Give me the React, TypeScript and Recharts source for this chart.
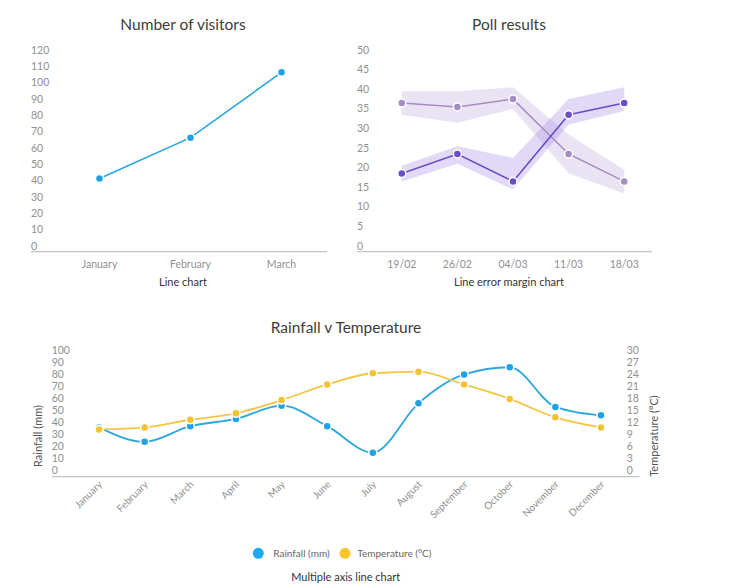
import React from "react";
import { LineChart, ComposedChart, Line, Area, XAxis, YAxis } from "recharts";

const FONT = "Lato, 'Open Sans', sans-serif";

// Number of visitors
const visitorMonths = ["January", "February", "March"];
const visitorCounts = [45, 70, 110];
const visitorTicks = [0, 10, 20, 30, 40, 50, 60, 70, 80, 90, 100, 110, 120];

// Poll results
const pollDates = ["19/02", "26/02", "04/03", "11/03", "18/03"];
const pollA = [38, 37, 39, 25, 18];
const pollALow = [35, 33, 36.5, 20, 15];
const pollAHigh = [41, 41, 42, 30, 21];
const pollB = [20, 25, 18, 35, 38];
const pollBLow = [18, 22.5, 16, 32.5, 36];
const pollBHigh = [22, 27, 24, 39, 42];
const pollTicks = [0, 5, 10, 15, 20, 25, 30, 35, 40, 45, 50];

// Rainfall v Temperature
const months = [
  "January", "February", "March", "April", "May", "June",
  "July", "August", "September", "October", "November", "December",
];
const rainfall = [41, 29, 42, 48, 59, 42, 20, 61, 85, 91, 58, 51];
const temperature = [11.8, 12.3, 14.2, 15.8, 19.1, 23, 25.8, 26.2, 23, 19.4, 14.8, 12.3];
const rainTicks = [0, 10, 20, 30, 40, 50, 60, 70, 80, 90, 100];
const tempTicks = [0, 3, 6, 9, 12, 15, 18, 21, 24, 27, 30];

const BLUE = "#2aa6e0";
const YELLOW = "#f4c443";
const PURPLE = "#6a4cc6";
const LILAC = "#a58cc4";
const TICK = "#909090";
const AXIS = "#c4c4c4";

const visitorData = visitorMonths.map((m, i) => ({ m, v: visitorCounts[i] }));
const pollData = pollDates.map((d, i) => ({
  d,
  a: pollA[i],
  aBand: [pollALow[i], pollAHigh[i]],
  b: pollB[i],
  bBand: [pollBLow[i], pollBHigh[i]],
}));
const weatherData = months.map((m, i) => ({ m, rain: rainfall[i], temp: temperature[i] }));

// y labels sit a little above their grid value, left aligned
function yTick(labelX: number) {
  return (p: any) => (
    <text x={labelX} y={p.y - 6} dy="0.35em" fontSize={10.5} fill={TICK} fontFamily={FONT}>
      {p.payload.value}
    </text>
  );
}

function xTick(p: any) {
  return (
    <text x={p.x} y={p.y + 4} dy="0.35em" textAnchor="middle" fontSize={10.5} fill={TICK} fontFamily={FONT}>
      {p.payload.value}
    </text>
  );
}

function slantTick(p: any) {
  const x = p.x + 4;
  const y = 155;
  return (
    <text x={x} y={y} textAnchor="end" fontSize={10} fill={TICK} fontFamily={FONT} transform={`rotate(-45 ${x} ${y})`}>
      {p.payload.value}
    </text>
  );
}

const dot = (fill: string) => ({ r: 4, fill, stroke: "#fff", strokeWidth: 1.5 });

export default function App() {
  return (
    <div style={{ position: "absolute", left: 0, top: 0, width: 732, height: 588, background: "#fff", fontFamily: FONT }}>
      <div style={{ position: "absolute", left: 0, top: 0 }}>
        <LineChart width={330} height={300} data={visitorData} margin={{ top: 56, right: 3, left: 0, bottom: 18 }}>
          <XAxis dataKey="m" height={30} padding={{ left: 45.5, right: 45.5 }} axisLine={false} tickLine={false} tick={xTick} interval={0} />
          <YAxis width={54} domain={[0, 120]} ticks={visitorTicks} interval={0} axisLine={false} tickLine={false} tick={yTick(31)} />
          <Line dataKey="v" type="linear" stroke={BLUE} strokeWidth={1.6} dot={dot("#1ea2e4")} activeDot={false} isAnimationActive={false} />
        </LineChart>
      </div>

      <div style={{ position: "absolute", left: 330, top: 0 }}>
        <ComposedChart width={330} height={300} data={pollData} margin={{ top: 56, right: 8, left: 0, bottom: 18 }}>
          <XAxis dataKey="d" height={30} padding={{ left: 27.8, right: 27.8 }} axisLine={false} tickLine={false} tick={xTick} interval={0} />
          <YAxis width={44} domain={[0, 50]} ticks={pollTicks} interval={0} axisLine={false} tickLine={false} tick={yTick(27)} />
          <Area dataKey="aBand" type="linear" stroke="none" fill="#b9a3dc" fillOpacity={0.3} isAnimationActive={false} activeDot={false} />
          <Area dataKey="bBand" type="linear" stroke="none" fill="#9c80e6" fillOpacity={0.3} isAnimationActive={false} activeDot={false} />
          <Line dataKey="a" type="linear" stroke={LILAC} strokeWidth={1.5} dot={dot(LILAC)} activeDot={false} isAnimationActive={false} />
          <Line dataKey="b" type="linear" stroke={PURPLE} strokeWidth={1.6} dot={dot(PURPLE)} activeDot={false} isAnimationActive={false} />
        </ComposedChart>
      </div>

      <div style={{ position: "absolute", left: 0, top: 330 }}>
        <LineChart width={732} height={200} data={weatherData} margin={{ top: 26.4, right: 0, left: 0, bottom: 3.3 }}>
          <XAxis dataKey="m" height={50} padding={{ left: 22.8, right: 22.8 }} axisLine={false} tickLine={false} tick={slantTick} interval={0} />
          <YAxis yAxisId="rain" width={76.2} domain={[0, 100]} ticks={rainTicks} interval={0} axisLine={false} tickLine={false} tick={yTick(51.7)} />
          <YAxis yAxisId="temp" orientation="right" width={108.2} domain={[0, 30]} ticks={tempTicks} interval={0} axisLine={false} tickLine={false} tick={yTick(626.7)} />
          <Line yAxisId="rain" dataKey="rain" type="monotone" stroke={BLUE} strokeWidth={1.8} dot={dot("#1ea2e4")} activeDot={false} isAnimationActive={false} />
          <Line yAxisId="temp" dataKey="temp" type="monotone" stroke={YELLOW} strokeWidth={1.8} dot={dot("#f5c232")} activeDot={false} isAnimationActive={false} />
        </LineChart>
      </div>

      <svg width={732} height={588} style={{ position: "absolute", left: 0, top: 0, pointerEvents: "none" }} fontFamily={FONT}>
        <line x1={31} x2={327} y1={251.7} y2={251.7} stroke={AXIS} strokeWidth={1.2} />
        <line x1={357} x2={652} y1={251.7} y2={251.7} stroke={AXIS} strokeWidth={1.2} />
        <line x1={51.7} x2={639.3} y1={476.7} y2={476.7} stroke={AXIS} strokeWidth={1.2} />

        <text x={183} y={25} dy="0.35em" textAnchor="middle" fontSize={15.5} fill="#3d3d3d">Number of visitors</text>
        <text x={509} y={25} dy="0.35em" textAnchor="middle" fontSize={15.5} fill="#3d3d3d">Poll results</text>
        <text x={183} y={282} dy="0.35em" textAnchor="middle" fontSize={11} fill="#333">Line chart</text>
        <text x={509} y={282} dy="0.35em" textAnchor="middle" fontSize={11} fill="#333">Line error margin chart</text>
        <text x={346} y={328} dy="0.35em" textAnchor="middle" fontSize={15.5} fill="#3d3d3d">Rainfall v Temperature</text>

        <text x={38.3} y={436} dy="0.35em" textAnchor="middle" fontSize={11} fill="#555" transform="rotate(-90 38.3 436)">Rainfall (mm)</text>
        <text x={654} y={436} dy="0.35em" textAnchor="middle" fontSize={11} fill="#555" transform="rotate(-90 654 436)">Temperature (°C)</text>

        <circle cx={258.3} cy={553.3} r={5.5} fill="#1ea9ee" />
        <text x={273.3} y={553.3} dy="0.35em" fontSize={10} fill="#666">Rainfall (mm)</text>
        <circle cx={345} cy={553.3} r={5.5} fill="#fbc531" />
        <text x={357.3} y={553.3} dy="0.35em" fontSize={10} fill="#666">Temperature (°C)</text>
        <text x={345.7} y={576.7} dy="0.35em" textAnchor="middle" fontSize={11} fill="#333">Multiple axis line chart</text>
      </svg>
    </div>
  );
}
